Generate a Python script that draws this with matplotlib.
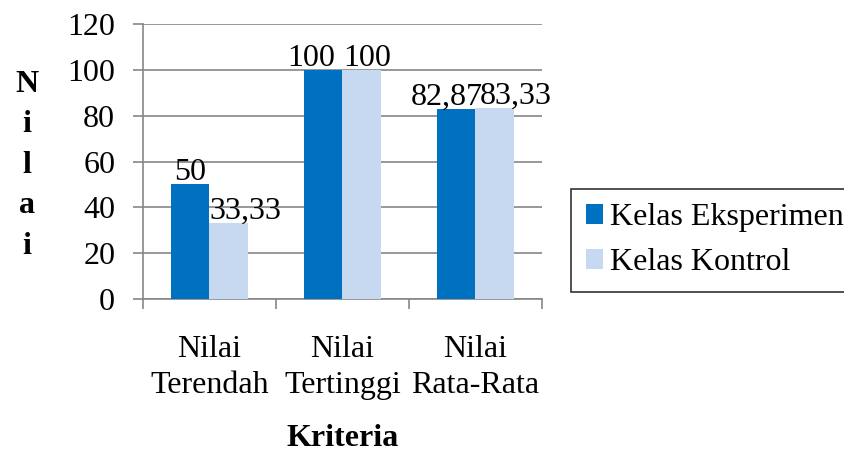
import matplotlib.pyplot as plt
import numpy as np

categories = ["Nilai\nTerendah", "Nilai\nTertinggi", "Nilai\nRata-Rata"]
eksperimen = [50, 100, 82.87]
kontrol = [33.33, 100, 83.33]
series_names = ["Kelas Eksperimen", "Kelas Kontrol"]

plt.rcParams["font.family"] = ["Liberation Serif", "DejaVu Serif"]
FS = 23

fig = plt.figure(figsize=(8.45, 4.54), dpi=100)
ax = fig.add_axes([0.1692, 0.3414, 0.4722, 0.6057])

x = np.arange(len(categories))
w = 0.286
dark = "#0070C0"
light = "#C6D9F0"
b1 = ax.bar(x - w / 2, eksperimen, w, color=dark, label=series_names[0], zorder=3)
b2 = ax.bar(x + w / 2, kontrol, w, color=light, label=series_names[1], zorder=3)


def fmt(v):
    s = f"{v:.2f}".rstrip("0").rstrip(".")
    return s.replace(".", ",")


# value labels, nudged sideways so neighbours don't collide
shift_dark = [0, -9, -7]
shift_light = [12, 4, 15]
for i in range(len(categories)):
    ax.annotate(fmt(eksperimen[i]), (x[i] - w / 2, eksperimen[i]),
                xytext=(shift_dark[i], -2), textcoords="offset points",
                ha="center", va="bottom", fontsize=FS, zorder=4)
    ax.annotate(fmt(kontrol[i]), (x[i] + w / 2, kontrol[i]),
                xytext=(shift_light[i], -2), textcoords="offset points",
                ha="center", va="bottom", fontsize=FS, zorder=4)

ax.set_ylim(0, 120)
ax.set_yticks(range(0, 121, 20))
ax.set_xlim(-0.5, 2.5)
ax.set_xticks(x)
ax.set_xticklabels(categories, fontsize=FS, linespacing=1.3)
ax.set_xticks([-0.5, 0.5, 1.5, 2.5], minor=True)
ax.tick_params(axis="x", which="major", length=0, pad=26)
ax.tick_params(axis="x", which="minor", length=7, color="#868686", width=1.2)
ax.tick_params(axis="y", length=7, color="#868686", width=1.2, labelsize=FS, pad=13)
ax.yaxis.grid(True, color="#868686", linewidth=1.2, zorder=0)
ax.set_axisbelow(True)
for side in ["top", "right"]:
    ax.spines[side].set_visible(False)
for side in ["left", "bottom"]:
    ax.spines[side].set_color("#868686")
    ax.spines[side].set_linewidth(1.2)

fig.text(0.032, 0.636, "N\ni\nl\na\ni", fontsize=FS, fontweight="bold",
         ha="center", va="center", linespacing=1.52)
fig.text(0.405, 0.017, "Kriteria", fontsize=FS, fontweight="bold",
         ha="center", va="baseline")

leg = fig.legend(handles=[b1, b2], loc="upper left",
                 bbox_to_anchor=(0.676, 0.584), fontsize=FS,
                 frameon=True, fancybox=False, handlelength=0.55,
                 handleheight=0.55, handletextpad=0.2, labelspacing=0.5,
                 borderpad=0.45, borderaxespad=0)
leg.get_frame().set_edgecolor("black")
leg.get_frame().set_linewidth(1.2)

fig.savefig("out.png", dpi=100)
